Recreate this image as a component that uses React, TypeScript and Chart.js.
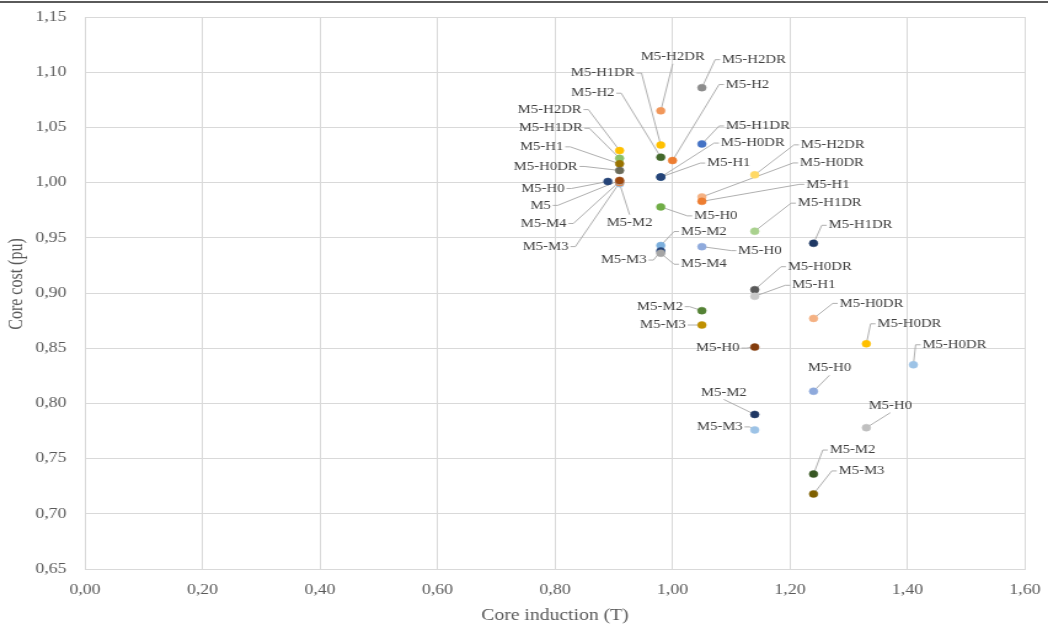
import React, { useEffect, useRef } from "react";
import { Chart, registerables } from "chart.js";

Chart.register(...registerables);

// ---------- data ----------
const pointNames = [
  // x ≈ 0.91
  "M5-H2DR", "M5-H1DR", "M5-H1", "M5-H0DR", "M5-H0", "M5-M2", "M5-M3", "M5-M4", "M5",
  // x ≈ 0.98
  "M5-H2DR", "M5-H1DR", "M5-H2", "M5-H2", "M5-H0DR", "M5-H1", "M5-H0", "M5-M2", "M5-M3", "M5-M4",
  // x ≈ 1.05
  "M5-H2DR", "M5-H1DR", "M5-H0DR", "M5-H1", "M5-H0", "M5-M2", "M5-M3",
  // x ≈ 1.14
  "M5-H2DR", "M5-H1DR", "M5-H0DR", "M5-H1", "M5-H0", "M5-M2", "M5-M3",
  // x ≈ 1.24
  "M5-H1DR", "M5-H0DR", "M5-H0", "M5-M2", "M5-M3",
  // x ≈ 1.33 / 1.41
  "M5-H0DR", "M5-H0DR", "M5-H0",
];

const coreInductionT = [
  0.91, 0.91, 0.91, 0.91, 0.89, 0.91, 0.91, 0.91, 0.91,
  0.98, 0.98, 0.98, 1.0, 0.98, 0.98, 0.98, 0.98, 0.98, 0.98,
  1.05, 1.05, 1.05, 1.05, 1.05, 1.05, 1.05,
  1.14, 1.14, 1.14, 1.14, 1.14, 1.14, 1.14,
  1.24, 1.24, 1.24, 1.24, 1.24,
  1.33, 1.41, 1.33,
];

const coreCostPu = [
  1.029, 1.022, 1.017, 1.011, 1.001, 0.999, 1.0, 1.001, 1.002,
  1.065, 1.034, 1.023, 1.02, 1.005, 1.005, 0.978, 0.943, 0.938, 0.936,
  1.086, 1.035, 0.987, 0.983, 0.942, 0.884, 0.871,
  1.007, 0.956, 0.903, 0.897, 0.851, 0.79, 0.776,
  0.945, 0.877, 0.811, 0.736, 0.718,
  0.854, 0.835, 0.778,
];

const pointColors = [
  "#FFC000", "#8CC168", "#997300", "#6B6B5A", "#264478", "#9DC3E6", "#ED7D31", "#A5A5A5", "#9E480E",
  "#F1975A", "#FFC000", "#43682B", "#ED7D31", "#255E91", "#264478", "#70AD47", "#7CAFDD", "#264478", "#A5A5A5",
  "#8C8C8C", "#4472C4", "#F4B183", "#ED7D31", "#8FAADC", "#548235", "#BF9000",
  "#FFD966", "#A9D18E", "#595959", "#C9C9C9", "#843C0C", "#203864", "#9DC3E6",
  "#1F3864", "#F4B183", "#8FAADC", "#375623", "#7F6000",
  "#FFC000", "#9DC3E6", "#C0C0C0",
];

// ---------- label layout (screen px offsets from the point, leader style) ----------
const labelOffsets: [number, number][] = [
  [-70, -41], [-69, -30], [-78, -17], [-74, -4], [-65, 7], [10, 39], [-74, 64], [-76, 42], [-79, 25],
  [12, -54], [-58, -72], [-68, -64], [75, -76], [92, -34], [68, -14], [55, 9], [43, -14], [-37, 9], [43, 11],
  [52, -28], [56, -18], [130, -34], [126, -17], [58, 4], [-42, -4], [-39, 0],
  [78, -30], [75, -28], [65, -23], [59, -11], [-37, 1], [-31, -22], [-35, -3],
  [47, -18], [58, -15], [16, -23], [39, -24], [48, -23],
  [43, -20], [41, -20], [24, -22],
];
const leaderModes = [
  "h", "h", "h", "h", "h", "v", "h", "h", "h",
  "v", "h", "h", "h", "h", "h", "h", "h", "h", "h",
  "h", "h", "h", "h", "h", "h", "h",
  "h", "h", "h", "h", "h", "v", "h",
  "h", "h", "v", "h", "h",
  "h", "h", "v",
];

const W = 1048;
const H = 630;
const CW = 852; // canvas drawn narrower, stretched horizontally like the reference
const SX = W / CW;
const FONT = '"Liberation Serif", "Times New Roman", serif';

// target plot area (canvas units)
const AREA_LEFT = 85 / SX;
const AREA_RIGHT = 1025 / SX;
const AREA_TOP = 17;
const AREA_BOTTOM = 569;

const fmt = (v: number | string) => Number(v).toFixed(2).replace(".", ",");

const labelPlugin = {
  id: "pointLabels",
  beforeDatasetsDraw(chart: any) {
    const ctx = chart.ctx;
    const meta = chart.getDatasetMeta(0);
    ctx.save();
    ctx.font = `12px ${FONT}`;
    ctx.strokeStyle = "#a6a6a6";
    ctx.lineWidth = 0.9;
    pointNames.forEach((name, i) => {
      const el = meta.data[i];
      if (!el) return;
      const px = el.x;
      const py = el.y;
      const lx = px + labelOffsets[i][0] / SX;
      const ly = py + labelOffsets[i][1];
      const w = ctx.measureText(name).width;
      ctx.beginPath();
      if (leaderModes[i] === "h") {
        const side = lx > px ? -1 : 1;
        const ax = lx + side * (w / 2 + 1.5);
        const sx = ax + side * 4;
        ctx.moveTo(ax, ly);
        ctx.lineTo(sx, ly);
        ctx.lineTo(px, py);
      } else {
        const ay = ly < py ? ly + 7 : ly - 8;
        ctx.moveTo(lx, ay);
        ctx.lineTo(px, py);
      }
      ctx.stroke();
    });
    ctx.restore();
  },
  afterDatasetsDraw(chart: any) {
    const ctx = chart.ctx;
    const meta = chart.getDatasetMeta(0);
    ctx.save();
    ctx.font = `12px ${FONT}`;
    ctx.fillStyle = "#404040";
    ctx.textAlign = "center";
    ctx.textBaseline = "middle";
    pointNames.forEach((name, i) => {
      const el = meta.data[i];
      if (!el) return;
      ctx.fillText(name, el.x + labelOffsets[i][0] / SX, el.y + labelOffsets[i][1]);
    });
    ctx.restore();
  },
  afterDraw(chart: any) {
    const ctx = chart.ctx;
    const a = chart.chartArea;
    ctx.save();
    ctx.fillStyle = "#595959";
    ctx.textAlign = "center";
    ctx.textBaseline = "middle";
    ctx.font = `16px ${FONT}`;
    ctx.fillText("Core induction (T)", (a.left + a.right) / 2, 616);
    ctx.translate(14, (a.top + a.bottom) / 2 - 9);
    ctx.rotate(-Math.PI / 2);
    ctx.fillText("Core cost (pu)", 0, 0);
    ctx.restore();
  },
};

export default function App() {
  const ref = useRef<HTMLCanvasElement>(null);

  useEffect(() => {
    const canvas = ref.current;
    if (!canvas) return;
    const chart = new Chart(canvas, {
      type: "scatter",
      data: {
        datasets: [
          {
            data: pointNames.map((_, i) => ({ x: coreInductionT[i], y: coreCostPu[i] })),
            backgroundColor: pointColors,
            borderColor: pointColors,
            pointBackgroundColor: pointColors,
            pointBorderColor: pointColors,
            pointRadius: 3.5,
            pointBorderWidth: 0.5,
            showLine: false,
          },
        ],
      },
      options: {
        responsive: false,
        animation: false,
        devicePixelRatio: 1,
        layout: {
          autoPadding: false,
          padding: { left: 0, top: AREA_TOP, right: CW - AREA_RIGHT, bottom: 0 },
        },
        plugins: {
          legend: { display: false },
          tooltip: { enabled: false },
        },
        scales: {
          x: {
            type: "linear",
            min: 0,
            max: 1.6,
            ticks: {
              stepSize: 0.2,
              callback: (v: any) => fmt(v),
              font: { family: FONT, size: 14.5 },
              color: "#595959",
              padding: 12,
            },
            grid: { color: "#d9d9d9", drawTicks: false, lineWidth: 1 },
            border: { color: "#d9d9d9" },
            afterFit: (s: any) => {
              s.height = H - AREA_BOTTOM;
              s.paddingLeft = 2;
              s.paddingRight = 2;
            },
          },
          y: {
            type: "linear",
            min: 0.65,
            max: 1.15,
            ticks: {
              stepSize: 0.05,
              callback: (v: any) => fmt(v),
              font: { family: FONT, size: 14.5 },
              color: "#595959",
              padding: 15,
            },
            grid: { color: "#d9d9d9", drawTicks: false, lineWidth: 1 },
            border: { color: "#d9d9d9" },
            afterFit: (s: any) => {
              s.width = AREA_LEFT;
              s.paddingTop = 2;
              s.paddingBottom = 2;
            },
          },
        },
      },
      plugins: [labelPlugin],
    } as any);
    return () => chart.destroy();
  }, []);

  return (
    <div
      style={{
        position: "fixed",
        left: 0,
        top: 0,
        width: W,
        height: H,
        background: "#ffffff",
        overflow: "hidden",
      }}
    >
      <canvas
        ref={ref}
        width={CW}
        height={H}
        style={{ position: "absolute", left: 0, top: 0, width: `${W}px`, height: `${H}px`, display: "block" }}
      />
      <div style={{ position: "absolute", left: 0, top: 1, width: W, height: 2, background: "#5a5a5a" }} />
    </div>
  );
}
